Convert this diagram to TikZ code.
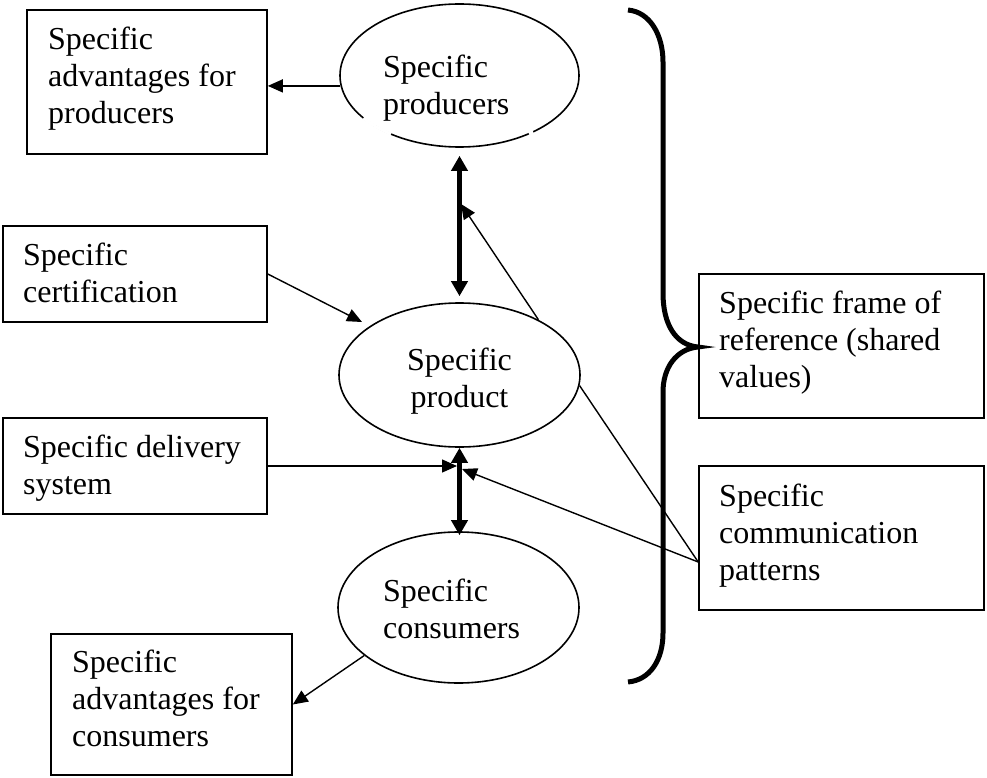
\documentclass[tikz,border=0pt]{standalone}
\usepackage{fontspec}
\setmainfont{Liberation Serif}
\usetikzlibrary{arrows.meta,shapes.geometric,calc}

\begin{document}
\begin{tikzpicture}[x=1pt,y=-1pt,
  box/.style={draw, line width=1.6pt, rectangle, inner sep=0pt},
  oval/.style={draw, line width=1.6pt, ellipse, inner sep=0pt},
  txt/.style={font=\fontsize{32}{37}\selectfont, align=left, anchor=base west, inner sep=0pt},
  ctxt/.style={font=\fontsize{32}{37}\selectfont, align=center, anchor=base, inner sep=0pt},
  link/.style={line width=1.4pt, -{Triangle[length=15pt,width=13pt]}},
  plain/.style={line width=1.4pt},
  dual/.style={line width=5pt, {Triangle[length=15pt,width=16pt]}-{Triangle[length=15pt,width=16pt]}},
  brace/.style={line width=5pt, line cap=butt}
]
\useasboundingbox (0,0) rectangle (987,778);

% rectangular boxes
\node[box, minimum width=240pt, minimum height=144pt] (advP)  at (147,82) {};
\node[box, minimum width=264pt, minimum height=96pt]  (cert)  at (135,274) {};
\node[box, minimum width=264pt, minimum height=96pt]  (deliv) at (135,466) {};
\node[box, minimum width=241pt, minimum height=141pt] (advC)  at (171.5,704.5) {};
\node[box, minimum width=285pt, minimum height=144pt] (frame) at (841.5,346) {};
\node[box, minimum width=285pt, minimum height=144pt] (comm)  at (841.5,538) {};

% ellipses
\node[oval, minimum width=239pt, minimum height=143pt] (prod) at (459.5,75.5) {};
\node[oval, minimum width=241pt, minimum height=144pt] (item) at (459.5,375) {};
\node[oval, minimum width=241pt, minimum height=151pt] (cons) at (458.5,607.5) {};

% small breaks in the producers ellipse outline
\draw[white, line width=3pt] ($(prod.center)+(125:119.5 and 71.5)$) arc[start angle=125, end angle=143.5, x radius=119.5, y radius=71.5];
\draw[white, line width=3pt] ($(prod.center)+(52:119.5 and 71.5)$) arc[start angle=52, end angle=54.5, x radius=119.5, y radius=71.5];

% texts (anchored at the baseline of their last line)
\node[txt] (advPt)  at (48,124)  {Specific\\advantages for\\producers};
\node[txt] (certt)  at (23,302)  {Specific\\certification};
\node[txt] (delivt) at (23,494)  {Specific delivery\\system};
\node[txt] (advCt)  at (72,746)  {Specific\\advantages for\\consumers};
\node[txt] (framet) at (719,387) {Specific frame of\\reference (shared\\values)};
\node[txt] (commt)  at (719,580) {Specific\\communication\\patterns};
\node[txt] (prodt)  at (383,115) {Specific\\producers};
\node[ctxt] (itemt) at (459.5,407) {Specific\\product};
\node[txt] (const)  at (383,638) {Specific\\consumers};

% free ends of connectors
\coordinate (certTip) at (362,322);
\coordinate (upTip)   at (461,204);
\coordinate (delTip)  at (457,466);
\coordinate (comTip)  at (462,469);
\coordinate (commSrc) at ($(comm.west)+(0,24)$);

% connectors
\draw[link] (prod.185) -- (prod.185 -| advP.east);
\draw[dual, shorten <=8pt, shorten >=6pt] (prod.south) -- (item.north);
\draw[link] (cert.east) -- (certTip);
\draw[link] (item.35) -- (upTip);
\draw[link] (deliv.east) -- (delTip);
\draw[dual, shorten <=0pt, shorten >=-4pt] (item.south) -- (item.south |- cons.north);
\draw[plain] (commSrc) -- (item.-5);
\draw[link] (commSrc) -- (comTip);
\draw[link] (cons.207) -- (advC.east);

% curly brace
\draw[brace] (628,10) .. controls (650,12) and (663,35) .. (663,62)
  -- (663,293) .. controls (663,325) and (676,345) .. (698,347)
  .. controls (676,349) and (663,368) .. (663,392)
  -- (663,633) .. controls (663,660) and (650,680) .. (628,682);
\end{tikzpicture}
\end{document}
